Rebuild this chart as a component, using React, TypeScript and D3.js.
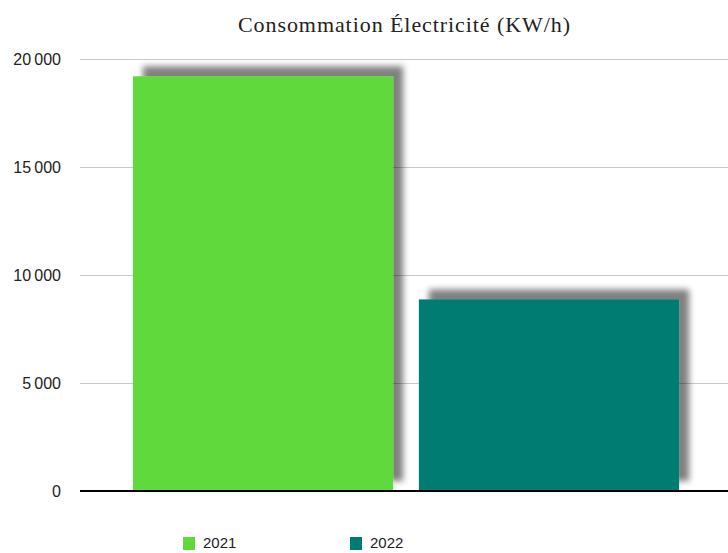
import React from "react";
import * as d3 from "d3";

const categories = ["2021", "2022"];
const values = [19200, 8870];
const colors = ["#5fd93a", "#007b73"];
const yTicks = [0, 5000, 10000, 15000, 20000];
const title = "Consommation Électricité (KW/h)";

const W = 728;
const H = 553;
const margin = { left: 80, right: 0, top: 59, bottom: 62 };

const fmt = (v: number) => {
  const s = d3.format(",")(v);
  return s.replace(/,/g, "\u2009");
};

export default function App() {
  const x = d3
    .scaleBand<string>()
    .domain(categories)
    .range([margin.left, W + 4])
    .paddingInner(0.09)
    .paddingOuter(0.185);
  const y = d3
    .scaleLinear()
    .domain([0, 20000])
    .range([H - margin.bottom, margin.top]);

  const legendX = [183, 350];

  return (
    <svg
      width={W}
      height={H}
      style={{ position: "absolute", left: 0, top: 0, background: "#fff" }}
    >
      <defs>
        <filter id="barShadow" x="-20%" y="-20%" width="140%" height="140%">
          <feGaussianBlur in="SourceAlpha" stdDeviation="3" />
          <feOffset dx="10" dy="-10" result="off" />
          <feComponentTransfer>
            <feFuncA type="linear" slope="0.5" />
          </feComponentTransfer>
          <feMerge>
            <feMergeNode />
            <feMergeNode in="SourceGraphic" />
          </feMerge>
        </filter>
      </defs>
      <text
        x={404}
        y={32}
        textAnchor="middle"
        fontFamily="'Liberation Serif', serif"
        fontSize={22}
        textLength={332}
        lengthAdjust="spacing"
        fill="#222"
      >
        {title}
      </text>
      {yTicks.map((t) => (
        <g key={t}>
          {t > 0 && (
            <line
              x1={margin.left}
              x2={W}
              y1={Math.round(y(t)) + 0.5}
              y2={Math.round(y(t)) + 0.5}
              stroke="#c8c8c8"
              strokeWidth={1}
            />
          )}
          <text
            x={61}
            y={y(t) + 6}
            textAnchor="end"
            fontFamily="'Liberation Sans', Arial, sans-serif"
            fontSize={16}
            fill="#222"
          >
            {fmt(t)}
          </text>
        </g>
      ))}
      {categories.map((c, i) => (
        <rect
          key={c}
          x={x(c)}
          y={y(values[i])}
          width={x.bandwidth()}
          height={y(0) - y(values[i])}
          fill={colors[i]}
          filter="url(#barShadow)"
        />
      ))}
      <line
        x1={margin.left}
        x2={W}
        y1={y(0)}
        y2={y(0)}
        stroke="#000"
        strokeWidth={2}
      />
      {categories.map((c, i) => (
        <g key={"lg" + c}>
          <rect x={legendX[i]} y={537} width={12} height={13} fill={colors[i]} />
          <text
            x={legendX[i] + 20}
            y={548}
            fontFamily="'Liberation Sans', Arial, sans-serif"
            fontSize={15}
            fill="#222"
          >
            {c}
          </text>
        </g>
      ))}
    </svg>
  );
}
